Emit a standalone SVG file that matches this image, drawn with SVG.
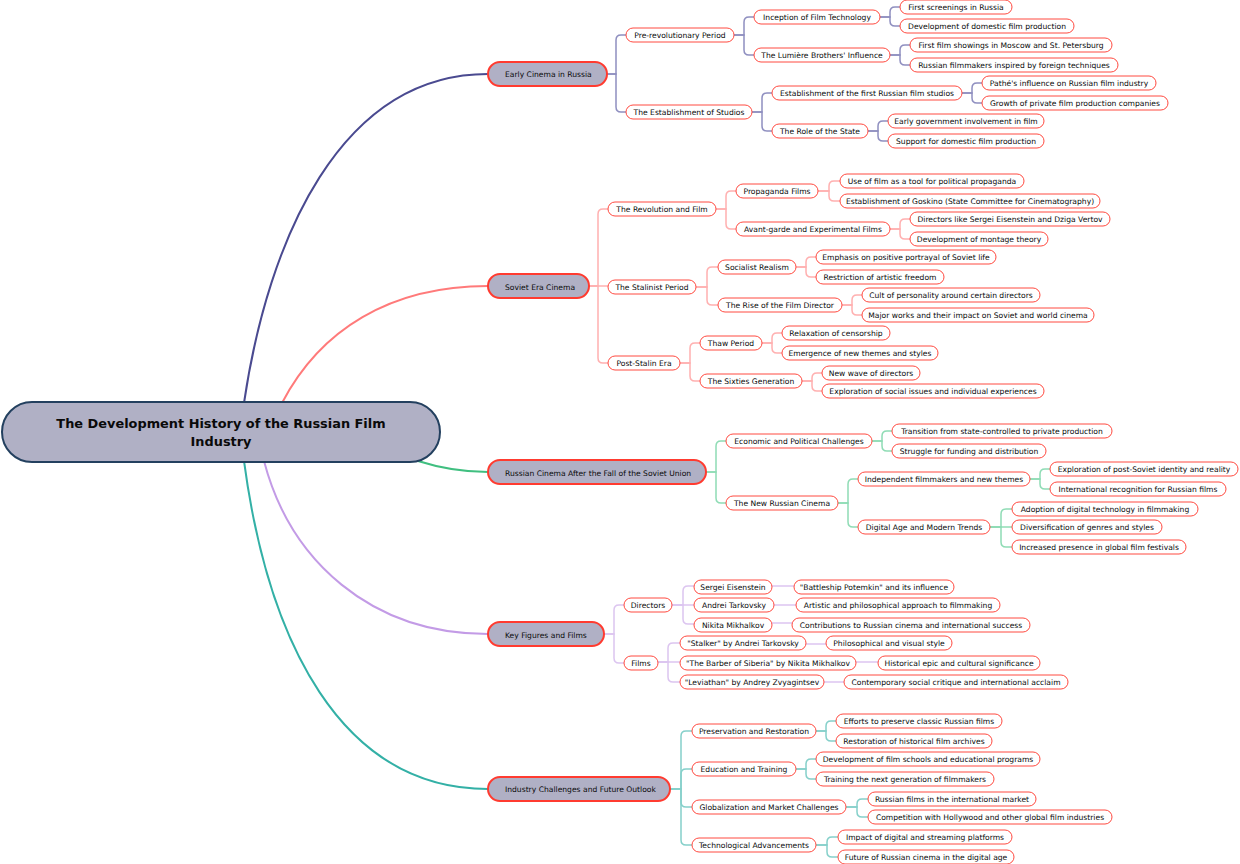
<svg xmlns="http://www.w3.org/2000/svg" width="1240" height="864" viewBox="0 0 1240 864">
<style>
text{font-family:"DejaVu Sans",Verdana,sans-serif;font-size:7.600px;fill:#0a0a0a;text-anchor:middle;dominant-baseline:central}
.n rect{fill:#fff;stroke:#ff4a40;stroke-width:1}
.l rect{fill:#b0b0c5;stroke:#ff3b30;stroke-width:2}
.l text{text-anchor:start}
.r rect{fill:#b0b0c5;stroke:#23405f;stroke-width:2}
.r text{font-size:12.900px;font-weight:bold}
path{fill:none}
.m{stroke-width:2}
.s{stroke-width:1.500}
.b1{stroke:#4a4a90}.c1{stroke:#8f8fc0}
.b2{stroke:#ff7a7a}.c2{stroke:#ffb0b0}
.b3{stroke:#40bf80}.c3{stroke:#8fdcb5}
.b4{stroke:#c39be6}.c4{stroke:#dcc5f0}
.b5{stroke:#33b0a6}.c5{stroke:#85d0ca}
</style>
<g id="connectors">
<g class="m">
<path class="b1" d="M244 403C268 240 340 74 488 74"/>
<path class="b2" d="M282 403C320 330 390 286 488 286"/>
<path class="b3" d="M418 461C440 468 462 472 488 472"/>
<path class="b4" d="M264 461C290 560 370 634 488 634"/>
<path class="b5" d="M244 461C268 640 340 789 488 789"/>
</g>
<g class="s c1">
<path d="M607 74H616V40Q616 35 621 35H626"/><path d="M607 74H616V107Q616 112 621 112H626"/>
<path d="M734 35H744V22Q744 17 749 17H754"/><path d="M734 35H744V50Q744 55 749 55H754"/>
<path d="M880 17H890V12Q890 7 895 7H900"/><path d="M880 17H890V21Q890 26 895 26H900"/>
<path d="M890 55H900V50Q900 45 905 45H910"/><path d="M890 55H900V60Q900 65 905 65H910"/>
<path d="M752 112H762V98Q762 93 767 93H772"/><path d="M752 112H762V126Q762 131 767 131H772"/>
<path d="M962 93H972V88Q972 83 977 83H982"/><path d="M962 93H972V98Q972 103 977 103H982"/>
<path d="M868 131H878V126Q878 121 883 121H888"/><path d="M868 131H878V136Q878 141 883 141H888"/>
</g>
<g class="s c2">
<path d="M589 286H598V214Q598 209 603 209H608"/><path d="M589 286H608"/><path d="M589 286H598V358Q598 363 603 363H608"/>
<path d="M716 209H726V196Q726 191 731 191H736"/><path d="M716 209H726V224Q726 229 731 229H736"/>
<path d="M818 191H829V186Q829 181 834 181H840"/><path d="M818 191H829V196Q829 201 834 201H840"/>
<path d="M890 229H900V224Q900 219 905 219H910"/><path d="M890 229H900V234Q900 239 905 239H910"/>
<path d="M696 287H707V272Q707 267 712 267H718"/><path d="M696 287H707V300Q707 305 712 305H718"/>
<path d="M796 267H806V262Q806 257 811 257H816"/><path d="M796 267H806V272Q806 277 811 277H816"/>
<path d="M842 305H852V300Q852 295 857 295H862"/><path d="M842 305H852V310Q852 315 857 315H862"/>
<path d="M680 363H690V348Q690 343 695 343H700"/><path d="M680 363H690V376Q690 381 695 381H700"/>
<path d="M762 343H772V338Q772 333 777 333H782"/><path d="M762 343H772V348Q772 353 777 353H782"/>
<path d="M802 381H812V378Q812 373 817 373H822"/><path d="M802 381H812V386Q812 391 817 391H822"/>
</g>
<g class="s c3">
<path d="M706 472H716V446Q716 441 721 441H726"/><path d="M706 472H716V498Q716 503 721 503H726"/>
<path d="M872 441H882V436Q882 431 887 431H892"/><path d="M872 441H882V446Q882 451 887 451H892"/>
<path d="M838 503H848V484Q848 479 853 479H858"/><path d="M838 503H848V522Q848 527 853 527H858"/>
<path d="M1030 479H1040V474Q1040 469 1045 469H1050"/><path d="M1030 479H1040V484Q1040 489 1045 489H1050"/>
<path d="M990 527H1001V514Q1001 509 1006 509H1012"/><path d="M990 527H1012"/><path d="M990 527H1001V542Q1001 547 1006 547H1012"/>
</g>
<g class="s c4">
<path d="M604 634H614V610Q614 605 619 605H624"/><path d="M604 634H614V658Q614 663 619 663H624"/>
<path d="M672 605H683V591Q683 586 688 586H694"/><path d="M672 605H694"/><path d="M672 605H683V619Q683 624 688 624H694"/>
<path d="M772 586H794"/><path d="M774 605H796"/><path d="M772 623H792"/>
<path d="M658 662H668V648Q668 643 673 643H680"/><path d="M658 662H680"/><path d="M658 662H668V677Q668 682 673 682H680"/>
<path d="M806 644H826"/><path d="M856 662H878"/><path d="M824 682H844"/>
</g>
<g class="s c5">
<path d="M670 789H681V736Q681 731 686 731H692"/><path d="M670 789H681V774Q681 769 686 769H692"/><path d="M670 789H681V802Q681 807 686 807H692"/><path d="M670 789H681V840Q681 845 686 845H692"/>
<path d="M816 731H826V726Q826 721 831 721H836"/><path d="M816 731H826V736Q826 741 831 741H836"/>
<path d="M796 769H806V764Q806 759 811 759H816"/><path d="M796 769H806V774Q806 779 811 779H816"/>
<path d="M846 807H857V804Q857 799 862 799H868"/><path d="M846 807H857V812Q857 817 862 817H868"/>
<path d="M816 845H827V842Q827 837 832 837H838"/><path d="M816 845H827V852Q827 857 832 857H838"/>
</g>
</g>
<g id="root" class="r"><rect x="2" y="402" width="438" height="60" rx="30"/><text x="221" y="423.500">The Development History of the Russian Film</text><text x="221" y="441">Industry</text></g>
<g id="n1" class="l"><rect x="488" y="62" width="119" height="24" rx="12"/><text x="505" y="74">Early Cinema in Russia</text></g>
<g id="n2" class="l"><rect x="488" y="274" width="101" height="24" rx="12"/><text x="505" y="287.500">Soviet Era Cinema</text></g>
<g id="n3" class="l"><rect x="488" y="460" width="218" height="24" rx="12"/><text x="505" y="473.500">Russian Cinema After the Fall of the Soviet Union</text></g>
<g id="n4" class="l"><rect x="488" y="622" width="116" height="24" rx="12"/><text x="505" y="635.500">Key Figures and Films</text></g>
<g id="n5" class="l"><rect x="488" y="777" width="182" height="24" rx="12"/><text x="505" y="789.500">Industry Challenges and Future Outlook</text></g>
<g id="n1-1" class="n"><rect x="626" y="28" width="108" height="14" rx="7"/><text x="680" y="35">Pre-revolutionary Period</text></g>
<g id="n1-1-1" class="n"><rect x="754" y="10" width="126" height="14" rx="7"/><text x="817" y="17">Inception of Film Technology</text></g>
<g id="n1-1-1-1" class="n"><rect x="900" y="0" width="112" height="14" rx="7"/><text x="956" y="7">First screenings in Russia</text></g>
<g id="n1-1-1-2" class="n"><rect x="900" y="19" width="174" height="14" rx="7"/><text x="987" y="26">Development of domestic film production</text></g>
<g id="n1-1-2" class="n"><rect x="754" y="48" width="136" height="14" rx="7"/><text x="822" y="55">The Lumière Brothers' Influence</text></g>
<g id="n1-1-2-1" class="n"><rect x="910" y="38" width="202" height="14" rx="7"/><text x="1011" y="45">First film showings in Moscow and St. Petersburg</text></g>
<g id="n1-1-2-2" class="n"><rect x="910" y="58" width="208" height="14" rx="7"/><text x="1014" y="65">Russian filmmakers inspired by foreign techniques</text></g>
<g id="n1-2" class="n"><rect x="626" y="105" width="126" height="14" rx="7"/><text x="689" y="112">The Establishment of Studios</text></g>
<g id="n1-2-1" class="n"><rect x="772" y="86" width="190" height="14" rx="7"/><text x="867" y="93">Establishment of the first Russian film studios</text></g>
<g id="n1-2-1-1" class="n"><rect x="982" y="76" width="174" height="14" rx="7"/><text x="1069" y="83">Pathé's influence on Russian film industry</text></g>
<g id="n1-2-1-2" class="n"><rect x="982" y="96" width="186" height="14" rx="7"/><text x="1075" y="103">Growth of private film production companies</text></g>
<g id="n1-2-2" class="n"><rect x="772" y="124" width="96" height="14" rx="7"/><text x="820" y="131">The Role of the State</text></g>
<g id="n1-2-2-1" class="n"><rect x="888" y="114" width="156" height="14" rx="7"/><text x="966" y="121">Early government involvement in film</text></g>
<g id="n1-2-2-2" class="n"><rect x="888" y="134" width="156" height="14" rx="7"/><text x="966" y="141">Support for domestic film production</text></g>
<g id="n2-1" class="n"><rect x="608" y="202" width="108" height="14" rx="7"/><text x="662" y="209">The Revolution and Film</text></g>
<g id="n2-1-1" class="n"><rect x="736" y="184" width="82" height="14" rx="7"/><text x="777" y="191">Propaganda Films</text></g>
<g id="n2-1-1-1" class="n"><rect x="840" y="174" width="184" height="14" rx="7"/><text x="932" y="181">Use of film as a tool for political propaganda</text></g>
<g id="n2-1-1-2" class="n"><rect x="840" y="194" width="260" height="14" rx="7"/><text x="970" y="201">Establishment of Goskino (State Committee for Cinematography)</text></g>
<g id="n2-1-2" class="n"><rect x="736" y="222" width="154" height="14" rx="7"/><text x="813" y="229">Avant-garde and Experimental Films</text></g>
<g id="n2-1-2-1" class="n"><rect x="910" y="212" width="200" height="14" rx="7"/><text x="1010" y="219">Directors like Sergei Eisenstein and Dziga Vertov</text></g>
<g id="n2-1-2-2" class="n"><rect x="910" y="232" width="138" height="14" rx="7"/><text x="979" y="239">Development of montage theory</text></g>
<g id="n2-2" class="n"><rect x="608" y="280" width="88" height="14" rx="7"/><text x="652" y="287">The Stalinist Period</text></g>
<g id="n2-2-1" class="n"><rect x="718" y="260" width="78" height="14" rx="7"/><text x="757" y="267">Socialist Realism</text></g>
<g id="n2-2-1-1" class="n"><rect x="816" y="250" width="180" height="14" rx="7"/><text x="906" y="257">Emphasis on positive portrayal of Soviet life</text></g>
<g id="n2-2-1-2" class="n"><rect x="816" y="270" width="128" height="14" rx="7"/><text x="880" y="277">Restriction of artistic freedom</text></g>
<g id="n2-2-2" class="n"><rect x="718" y="298" width="124" height="14" rx="7"/><text x="780" y="305">The Rise of the Film Director</text></g>
<g id="n2-2-2-1" class="n"><rect x="862" y="288" width="178" height="14" rx="7"/><text x="951" y="295">Cult of personality around certain directors</text></g>
<g id="n2-2-2-2" class="n"><rect x="862" y="308" width="232" height="14" rx="7"/><text x="978" y="315">Major works and their impact on Soviet and world cinema</text></g>
<g id="n2-3" class="n"><rect x="608" y="356" width="72" height="14" rx="7"/><text x="644" y="363">Post-Stalin Era</text></g>
<g id="n2-3-1" class="n"><rect x="700" y="336" width="62" height="14" rx="7"/><text x="731" y="343">Thaw Period</text></g>
<g id="n2-3-1-1" class="n"><rect x="782" y="326" width="108" height="14" rx="7"/><text x="836" y="333">Relaxation of censorship</text></g>
<g id="n2-3-1-2" class="n"><rect x="782" y="346" width="156" height="14" rx="7"/><text x="860" y="353">Emergence of new themes and styles</text></g>
<g id="n2-3-2" class="n"><rect x="700" y="374" width="102" height="14" rx="7"/><text x="751" y="381">The Sixties Generation</text></g>
<g id="n2-3-2-1" class="n"><rect x="822" y="366" width="98" height="14" rx="7"/><text x="871" y="373">New wave of directors</text></g>
<g id="n2-3-2-2" class="n"><rect x="822" y="384" width="222" height="14" rx="7"/><text x="933" y="391">Exploration of social issues and individual experiences</text></g>
<g id="n3-1" class="n"><rect x="726" y="434" width="146" height="14" rx="7"/><text x="799" y="441">Economic and Political Challenges</text></g>
<g id="n3-1-1" class="n"><rect x="892" y="424" width="220" height="14" rx="7"/><text x="1002" y="431">Transition from state-controlled to private production</text></g>
<g id="n3-1-2" class="n"><rect x="892" y="444" width="154" height="14" rx="7"/><text x="969" y="451">Struggle for funding and distribution</text></g>
<g id="n3-2" class="n"><rect x="726" y="496" width="112" height="14" rx="7"/><text x="782" y="503">The New Russian Cinema</text></g>
<g id="n3-2-1" class="n"><rect x="858" y="472" width="172" height="14" rx="7"/><text x="944" y="479">Independent filmmakers and new themes</text></g>
<g id="n3-2-1-1" class="n"><rect x="1050" y="462" width="188" height="14" rx="7"/><text x="1144" y="469">Exploration of post-Soviet identity and reality</text></g>
<g id="n3-2-1-2" class="n"><rect x="1050" y="482" width="176" height="14" rx="7"/><text x="1138" y="489">International recognition for Russian films</text></g>
<g id="n3-2-2" class="n"><rect x="858" y="520" width="132" height="14" rx="7"/><text x="924" y="527">Digital Age and Modern Trends</text></g>
<g id="n3-2-2-1" class="n"><rect x="1012" y="502" width="186" height="14" rx="7"/><text x="1105" y="509">Adoption of digital technology in filmmaking</text></g>
<g id="n3-2-2-2" class="n"><rect x="1012" y="520" width="150" height="14" rx="7"/><text x="1087" y="527">Diversification of genres and styles</text></g>
<g id="n3-2-2-3" class="n"><rect x="1012" y="540" width="174" height="14" rx="7"/><text x="1099" y="547">Increased presence in global film festivals</text></g>
<g id="n4-1" class="n"><rect x="624" y="598" width="48" height="14" rx="7"/><text x="648" y="605">Directors</text></g>
<g id="n4-1-1" class="n"><rect x="694" y="580" width="78" height="14" rx="7"/><text x="733" y="587">Sergei Eisenstein</text></g>
<g id="n4-1-1-1" class="n"><rect x="794" y="580" width="160" height="14" rx="7"/><text x="874" y="587">"Battleship Potemkin" and its influence</text></g>
<g id="n4-1-2" class="n"><rect x="694" y="598" width="80" height="14" rx="7"/><text x="734" y="605">Andrei Tarkovsky</text></g>
<g id="n4-1-2-1" class="n"><rect x="796" y="598" width="204" height="14" rx="7"/><text x="898" y="605">Artistic and philosophical approach to filmmaking</text></g>
<g id="n4-1-3" class="n"><rect x="694" y="618" width="78" height="14" rx="7"/><text x="733" y="625">Nikita Mikhalkov</text></g>
<g id="n4-1-3-1" class="n"><rect x="792" y="618" width="238" height="14" rx="7"/><text x="911" y="625">Contributions to Russian cinema and international success</text></g>
<g id="n4-2" class="n"><rect x="624" y="656" width="34" height="14" rx="7"/><text x="641" y="663">Films</text></g>
<g id="n4-2-1" class="n"><rect x="680" y="636" width="126" height="14" rx="7"/><text x="743" y="643">"Stalker" by Andrei Tarkovsky</text></g>
<g id="n4-2-1-1" class="n"><rect x="826" y="636" width="126" height="14" rx="7"/><text x="889" y="643">Philosophical and visual style</text></g>
<g id="n4-2-2" class="n"><rect x="680" y="656" width="176" height="14" rx="7"/><text x="768" y="663">"The Barber of Siberia" by Nikita Mikhalkov</text></g>
<g id="n4-2-2-1" class="n"><rect x="878" y="656" width="162" height="14" rx="7"/><text x="959" y="663">Historical epic and cultural significance</text></g>
<g id="n4-2-3" class="n"><rect x="680" y="675" width="144" height="14" rx="7"/><text x="752" y="682">"Leviathan" by Andrey Zvyagintsev</text></g>
<g id="n4-2-3-1" class="n"><rect x="844" y="675" width="224" height="14" rx="7"/><text x="956" y="682">Contemporary social critique and international acclaim</text></g>
<g id="n5-1" class="n"><rect x="692" y="724" width="124" height="14" rx="7"/><text x="754" y="731">Preservation and Restoration</text></g>
<g id="n5-1-1" class="n"><rect x="836" y="714" width="166" height="14" rx="7"/><text x="919" y="721">Efforts to preserve classic Russian films</text></g>
<g id="n5-1-2" class="n"><rect x="836" y="734" width="156" height="14" rx="7"/><text x="914" y="741">Restoration of historical film archives</text></g>
<g id="n5-2" class="n"><rect x="692" y="762" width="104" height="14" rx="7"/><text x="744" y="769">Education and Training</text></g>
<g id="n5-2-1" class="n"><rect x="816" y="752" width="224" height="14" rx="7"/><text x="928" y="759">Development of film schools and educational programs</text></g>
<g id="n5-2-2" class="n"><rect x="816" y="772" width="178" height="14" rx="7"/><text x="905" y="779">Training the next generation of filmmakers</text></g>
<g id="n5-3" class="n"><rect x="692" y="800" width="154" height="14" rx="7"/><text x="769" y="807">Globalization and Market Challenges</text></g>
<g id="n5-3-1" class="n"><rect x="868" y="792" width="168" height="14" rx="7"/><text x="952" y="799">Russian films in the international market</text></g>
<g id="n5-3-2" class="n"><rect x="868" y="810" width="244" height="14" rx="7"/><text x="990" y="817">Competition with Hollywood and other global film industries</text></g>
<g id="n5-4" class="n"><rect x="692" y="838" width="124" height="14" rx="7"/><text x="754" y="845">Technological Advancements</text></g>
<g id="n5-4-1" class="n"><rect x="838" y="830" width="174" height="14" rx="7"/><text x="925" y="837">Impact of digital and streaming platforms</text></g>
<g id="n5-4-2" class="n"><rect x="838" y="850" width="176" height="14" rx="7"/><text x="926" y="857">Future of Russian cinema in the digital age</text></g>
</svg>
